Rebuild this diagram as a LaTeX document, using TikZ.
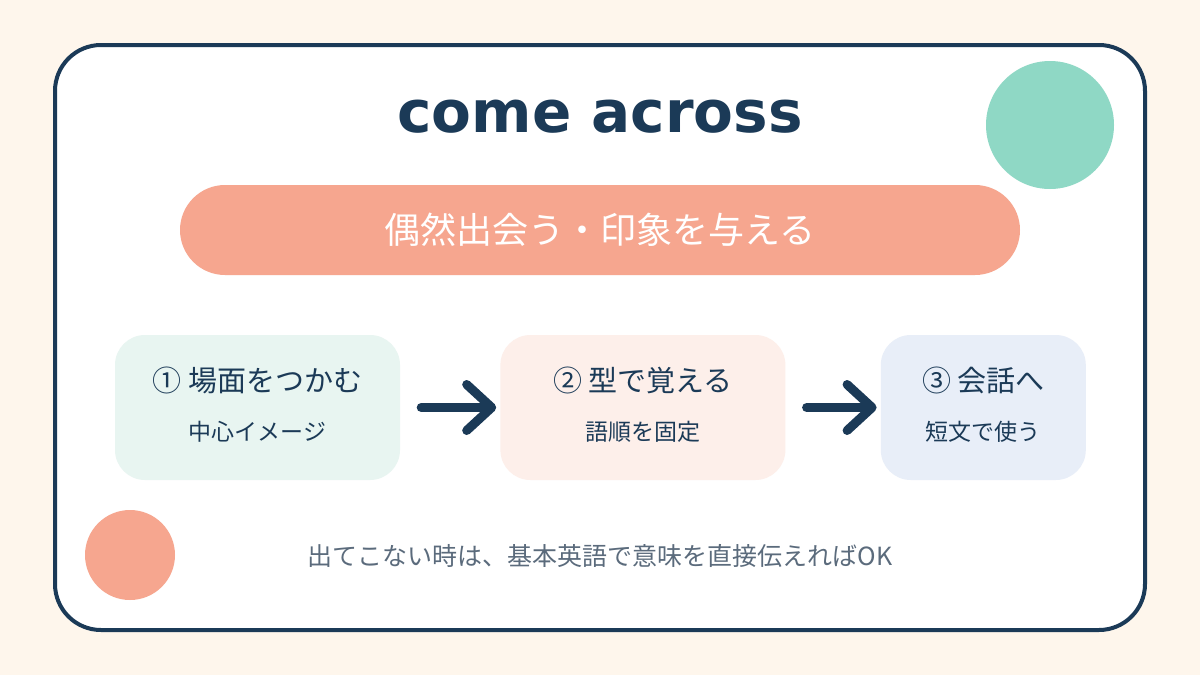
\documentclass[tikz,border=0pt]{standalone}
\usepackage{fontspec}
\setmainfont{DejaVu Sans}
\newfontfamily\jpfont{Noto Sans CJK JP}
\usetikzlibrary{positioning,arrows.meta}
\definecolor{cabg}{HTML}{FEF6EC}
\definecolor{canavy}{HTML}{1B3A57}
\definecolor{casalmon}{HTML}{F6A68F}
\definecolor{cateal}{HTML}{8FD8C5}
\definecolor{camint}{HTML}{E8F5F1}
\definecolor{capink}{HTML}{FDEFEA}
\definecolor{cablue}{HTML}{E8EEF8}
\definecolor{cagrey}{HTML}{5B6B7C}
\tikzset{
  frame/.style={draw=canavy,line width=4pt,fill=white,rounded corners=46pt},
  pill/.style={fill=casalmon,rounded corners=45pt,minimum width=840pt,minimum height=90pt,text=white,font=\jpfont\fontsize{36}{42}\selectfont},
  stepbox/.style={rounded corners=30pt,minimum height=145pt,inner sep=0pt},
  head/.style={text=canavy,font=\jpfont\fontsize{29}{34}\selectfont,inner sep=0pt},
  sub/.style={text=canavy,font=\jpfont\fontsize{23}{28}\selectfont,inner sep=0pt},
  flow/.style={-{Straight Barb[length=25pt,width=46pt,round]},line width=9pt,line cap=round,draw=canavy},
  dot/.style={circle,inner sep=0pt},
}
\begin{document}
\begin{tikzpicture}[x=1pt,y=-1pt]
  \fill[cabg] (0,0) rectangle (1200,675);
  \useasboundingbox (0,0) rectangle (1200,675);
  \draw[frame] (55,45) rectangle (1145,630);
  \node[dot,fill=cateal,minimum size=128pt] (tealdot) at (1050,125) {};
  \node[dot,fill=casalmon,minimum size=90pt] (salmondot) at (130,555) {};
  \node[text=canavy,font=\bfseries\fontsize{58}{63}\selectfont] (title) at (600,117) {come across};
  \node[pill] (meaning) at (600,230) {偶然出会う・印象を与える};
  % three steps
  \node[stepbox,fill=camint,minimum width=285pt] (scene) at (257.5,407.5) {};
  \node[stepbox,fill=capink,minimum width=285pt,right=100pt of scene] (form) {};
  \node[stepbox,fill=cablue,minimum width=205pt,right=95pt of form] (talk) {};
  \node[head] (sceneh) at ([yshift=27pt]scene.center) {① 場面をつかむ};
  \node[sub] (scenes) at ([yshift=-24pt]scene.center) {中心イメージ};
  \node[head] (formh) at ([yshift=27pt]form.center) {② 型で覚える};
  \node[sub] (forms) at ([yshift=-24pt]form.center) {語順を固定};
  \node[head] (talkh) at ([yshift=27pt]talk.center) {③ 会話へ};
  \node[sub] (talks) at ([yshift=-24pt]talk.center) {短文で使う};
  \draw[flow,shorten <=21pt,shorten >=4pt] (scene) -- (form);
  \draw[flow,shorten <=21pt,shorten >=4pt] (form) -- (talk);
  \node[text=cagrey,font=\jpfont\fontsize{25}{30}\selectfont] (hint) at (600,556) {出てこない時は、基本英語で意味を直接伝えればOK};
\end{tikzpicture}
\end{document}
